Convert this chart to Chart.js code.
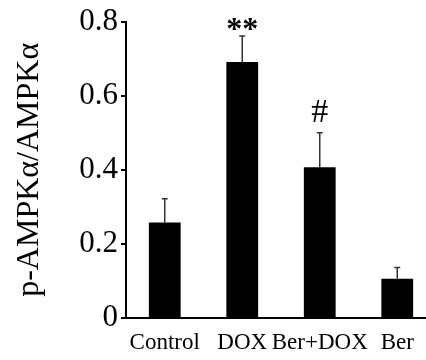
<!DOCTYPE html>
<html>
<head>
<meta charset="utf-8">
<script src="https://cdn.jsdelivr.net/npm/chart.js@4.4.1/dist/chart.umd.min.js"></script>
<style>
html, body { margin: 0; padding: 0; background: #fff; overflow: hidden; }
</style>
</head>
<body>
<canvas id="graf" width="440" height="360"></canvas>
<script>
// data z obrazku
var skupiny = ['Control', 'DOX', 'Ber+DOX', 'Ber'];
var hodnoty = [0.258, 0.691, 0.407, 0.106];
var chyby = [0.064, 0.07, 0.093, 0.03];
var znacky = ['', '**', '#', ''];
var yTicks = [0, 0.2, 0.4, 0.6, 0.8];

var PISMO = "'Liberation Serif', 'Times New Roman', serif";

// chybove usecky + hviezdicky nad stlpcami
var chybovePlugin = {
    id: 'chyby',
    afterDatasetsDraw: function (chart) {
        var ctx = chart.ctx;
        var meta = chart.getDatasetMeta(0);
        var os = chart.scales.y;
        ctx.save();
        for (var i = 0; i < hodnoty.length; i++) {
            var bar = meta.data[i];
            var vrch = os.getPixelForValue(hodnoty[i] + chyby[i]);
            ctx.strokeStyle = '#333';
            ctx.lineWidth = 1.5;
            ctx.beginPath();
            ctx.moveTo(bar.x, bar.y);
            ctx.lineTo(bar.x, vrch);
            ctx.moveTo(bar.x - 3, vrch);
            ctx.lineTo(bar.x + 3, vrch);
            ctx.stroke();

            if (znacky[i]) {
                var medzera = 6;
                if (znacky[i] === '#') {
                    ctx.font = '34px ' + PISMO;
                    medzera = 11;
                } else {
                    ctx.font = 'bold 32px ' + PISMO;
                }
                ctx.fillStyle = '#000';
                ctx.textAlign = 'center';
                ctx.textBaseline = 'alphabetic';
                var m = ctx.measureText(znacky[i]);
                ctx.fillText(znacky[i], bar.x, vrch - medzera - m.actualBoundingBoxDescent);
            }
        }
        ctx.restore();
    }
};

new Chart(document.getElementById('graf'), {
    type: 'bar',
    data: {
        labels: skupiny,
        datasets: [{
            data: hodnoty,
            backgroundColor: '#000',
            borderWidth: 0,
            categoryPercentage: 1,
            barPercentage: 0.41
        }]
    },
    options: {
        responsive: false,
        animation: false,
        layout: { padding: { top: 17, right: 4, left: 0, bottom: 0 } },
        plugins: {
            legend: { display: false },
            tooltip: { enabled: false }
        },
        scales: {
            x: {
                grid: { display: false },
                border: { display: true, color: '#000', width: 2 },
                ticks: {
                    color: '#000',
                    padding: 3,
                    maxRotation: 0,
                    autoSkip: false,
                    font: { family: PISMO, size: 23 }
                },
                afterFit: function (scale) { scale.height = 42; }
            },
            y: {
                min: 0,
                max: 0.8,
                afterBuildTicks: function (scale) {
                    scale.ticks = yTicks.map(function (v) { return { value: v }; });
                },
                grid: {
                    drawOnChartArea: false,
                    drawTicks: true,
                    tickLength: 5,
                    color: '#000',
                    lineWidth: 2
                },
                border: { display: true, color: '#000', width: 2 },
                ticks: {
                    color: '#000',
                    padding: 3,
                    font: { family: PISMO, size: 31 },
                    callback: function (v) { return v === 0 ? '0' : v.toFixed(1); }
                },
                title: {
                    display: true,
                    text: 'p-AMPKα/AMPKα',
                    color: '#000',
                    padding: { top: 10, bottom: 0 },
                    font: { family: PISMO, size: 32 }
                },
                afterFit: function (scale) { scale.width = 126; }
            }
        }
    },
    plugins: [chybovePlugin]
});
</script>
</body>
</html>
